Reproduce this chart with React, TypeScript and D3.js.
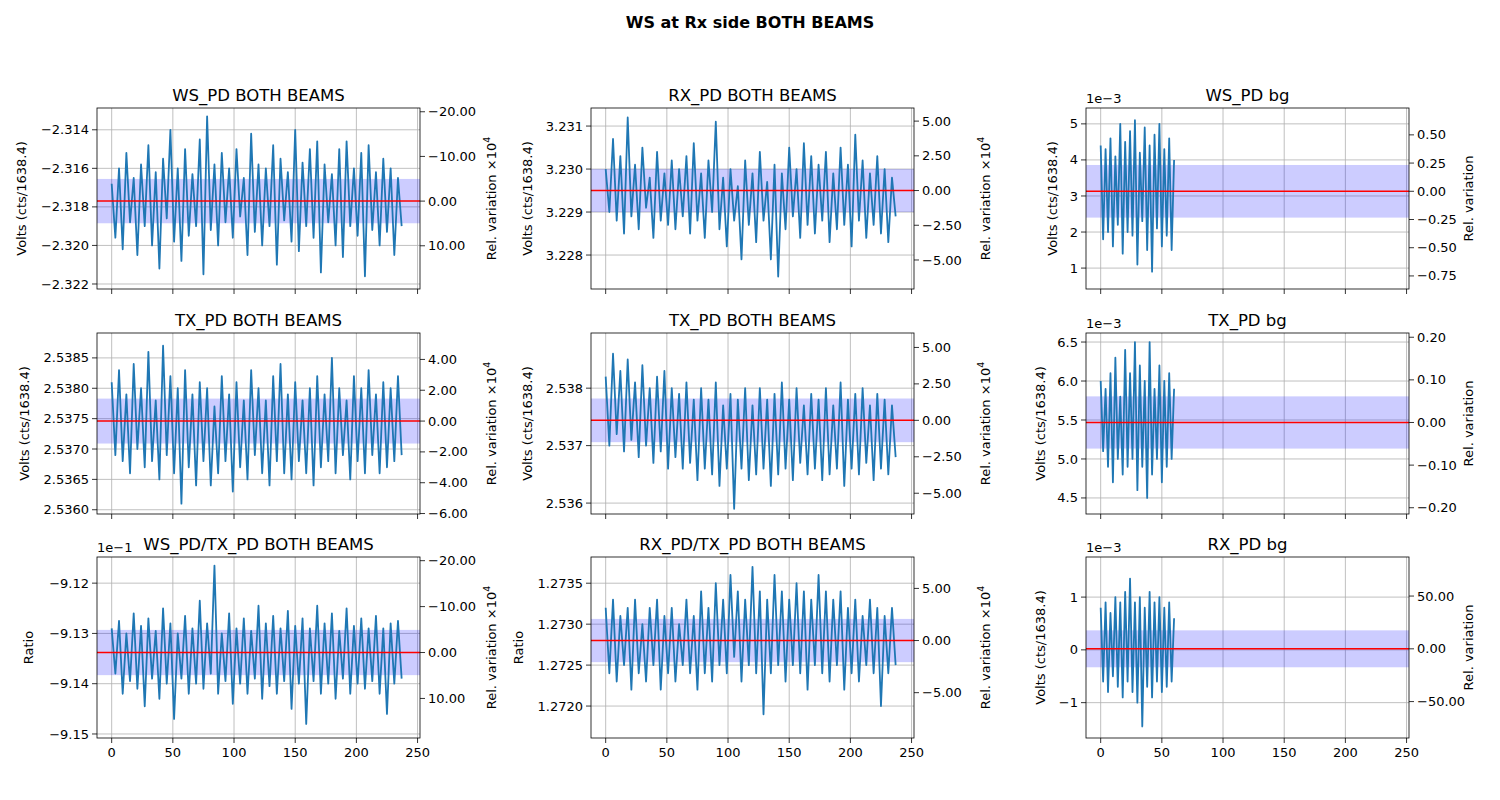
import React from "react";
import * as d3 from "d3";

// time axis samples (seconds)
const timeBoth = d3.range(80).map((i) => i * 3);
const timeBg = d3.range(31).map((i) => i * 2);

const wsBoth = [-2.3168,-2.3196,-2.3160,-2.3202,-2.3152,-2.3188,-2.3165,-2.3205,-2.3158,-2.3190,-2.3148,-2.3200,-2.3162,-2.3212,-2.3155,-2.3186,-2.3140,-2.3198,-2.3160,-2.3208,-2.3150,-2.3195,-2.3163,-2.3190,-2.3145,-2.3215,-2.3133,-2.3192,-2.3158,-2.3200,-2.3152,-2.3188,-2.3160,-2.3196,-2.3150,-2.3185,-2.3165,-2.3205,-2.3142,-2.3193,-2.3158,-2.3200,-2.3160,-2.3190,-2.3148,-2.3210,-2.3155,-2.3187,-2.3162,-2.3198,-2.3140,-2.3203,-2.3157,-2.3190,-2.3150,-2.3196,-2.3146,-2.3214,-2.3158,-2.3188,-2.3163,-2.3200,-2.3150,-2.3206,-2.3146,-2.3190,-2.3160,-2.3195,-2.3152,-2.3216,-2.3148,-2.3192,-2.3162,-2.3200,-2.3155,-2.3193,-2.3160,-2.3205,-2.3165,-2.3190];
const rxBoth = [3.2300,3.2290,3.2307,3.2288,3.2303,3.2285,3.2312,3.2289,3.2301,3.2286,3.2305,3.2291,3.2298,3.2284,3.2304,3.2288,3.2299,3.2287,3.2302,3.2286,3.2300,3.2289,3.2303,3.2285,3.2306,3.2288,3.2299,3.2284,3.2302,3.2290,3.2311,3.2286,3.2298,3.2282,3.2300,3.2288,3.2296,3.2279,3.2302,3.2287,3.2299,3.2283,3.2304,3.2288,3.2297,3.2279,3.2301,3.2275,3.2299,3.2286,3.2305,3.2289,3.2300,3.2284,3.2306,3.2287,3.2303,3.2285,3.2301,3.2288,3.2304,3.2283,3.2299,3.2286,3.2305,3.2287,3.2301,3.2282,3.2308,3.2288,3.2302,3.2284,3.2299,3.2287,3.2303,3.2285,3.2300,3.2283,3.2298,3.2289];
const txBoth1 = [2.5381,2.5369,2.5383,2.5368,2.5379,2.5366,2.5384,2.5370,2.5380,2.5367,2.5386,2.5368,2.5378,2.5365,2.5387,2.5369,2.5382,2.5366,2.5380,2.5361,2.5383,2.5367,2.5379,2.5364,2.5381,2.5368,2.5380,2.5364,2.5377,2.5366,2.5382,2.5368,2.5379,2.5363,2.5381,2.5367,2.5378,2.5365,2.5383,2.5369,2.5380,2.5366,2.5378,2.5364,2.5382,2.5368,2.5384,2.5366,2.5379,2.5365,2.5381,2.5368,2.5378,2.5366,2.5380,2.5364,2.5382,2.5367,2.5379,2.5368,2.5385,2.5366,2.5380,2.5369,2.5378,2.5365,2.5382,2.5368,2.5380,2.5366,2.5383,2.5369,2.5379,2.5366,2.5381,2.5367,2.5380,2.5368,2.5382,2.5369];
const txBoth2 = [2.5382,2.5370,2.5386,2.5372,2.5383,2.5369,2.5385,2.5371,2.5381,2.5368,2.5384,2.5370,2.5380,2.5367,2.5382,2.5369,2.5383,2.5366,2.5380,2.5368,2.5379,2.5366,2.5381,2.5367,2.5378,2.5364,2.5380,2.5366,2.5378,2.5365,2.5381,2.5363,2.5377,2.5366,2.5379,2.5359,2.5378,2.5366,2.5380,2.5364,2.5377,2.5365,2.5380,2.5366,2.5378,2.5363,2.5379,2.5365,2.5381,2.5366,2.5378,2.5364,2.5380,2.5367,2.5377,2.5365,2.5379,2.5366,2.5378,2.5364,2.5380,2.5365,2.5377,2.5366,2.5381,2.5363,2.5378,2.5366,2.5379,2.5365,2.5380,2.5367,2.5377,2.5364,2.5379,2.5366,2.5378,2.5365,2.5377,2.5368];
const wsTxRatio = [-9.1290,-9.1380,-9.1275,-9.1420,-9.1300,-9.1395,-9.1260,-9.1410,-9.1285,-9.1445,-9.1270,-9.1390,-9.1295,-9.1430,-9.1250,-9.1400,-9.1280,-9.1470,-9.1300,-9.1390,-9.1265,-9.1420,-9.1290,-9.1400,-9.1235,-9.1410,-9.1280,-9.1380,-9.1165,-9.1420,-9.1300,-9.1395,-9.1260,-9.1440,-9.1290,-9.1400,-9.1270,-9.1420,-9.1295,-9.1390,-9.1245,-9.1430,-9.1280,-9.1405,-9.1265,-9.1420,-9.1290,-9.1395,-9.1255,-9.1450,-9.1285,-9.1400,-9.1270,-9.1480,-9.1290,-9.1395,-9.1245,-9.1420,-9.1280,-9.1400,-9.1260,-9.1430,-9.1295,-9.1390,-9.1250,-9.1420,-9.1285,-9.1400,-9.1270,-9.1410,-9.1290,-9.1395,-9.1265,-9.1420,-9.1290,-9.1460,-9.1280,-9.1400,-9.1275,-9.1390];
const rxTxRatio = [1.2732,1.2724,1.2733,1.2723,1.2731,1.2725,1.2732,1.2722,1.2733,1.2724,1.2730,1.2723,1.2732,1.2725,1.2733,1.2722,1.2731,1.2724,1.2732,1.2723,1.2730,1.2725,1.2733,1.2724,1.2731,1.2722,1.2734,1.2724,1.2732,1.2723,1.2735,1.2725,1.2733,1.2724,1.2736,1.2726,1.2734,1.2723,1.2733,1.2725,1.2737,1.2724,1.2734,1.2719,1.2733,1.2724,1.2736,1.2725,1.2734,1.2723,1.2733,1.2725,1.2735,1.2724,1.2734,1.2722,1.2733,1.2725,1.2736,1.2724,1.2734,1.2723,1.2733,1.2725,1.2734,1.2722,1.2732,1.2724,1.2733,1.2723,1.2731,1.2725,1.2733,1.2724,1.2732,1.2720,1.2731,1.2724,1.2732,1.2725];
// background values in units of 1e-3
const wsBg = [4.4,1.8,4.3,2.0,4.6,1.6,4.1,2.2,5.0,1.4,4.5,2.0,4.8,1.9,5.1,1.1,4.2,2.3,4.9,1.5,4.4,0.9,4.7,2.1,5.0,1.6,4.3,1.9,4.6,1.5,4.0];
const txBg = [6.0,5.1,5.9,4.9,6.1,4.7,6.3,5.0,5.8,4.8,6.4,4.9,6.1,5.0,6.5,4.6,6.2,4.9,6.0,4.5,6.5,4.8,5.9,5.0,6.2,4.7,6.0,4.9,6.1,5.0,5.9];
const rxBg = [0.8,-0.6,0.9,-0.8,0.7,-0.5,1.0,-0.7,0.9,-0.9,1.1,-0.6,1.35,-0.8,0.9,-1.0,1.0,-1.45,0.8,-0.7,1.1,-0.9,0.9,-0.6,1.0,-0.8,0.8,-0.7,0.9,-0.6,0.6];

const xTicks = [0, 50, 100, 150, 200, 250];

type Panel = {
  title: string; t: number[]; v: number[]; ylim: [number, number]; yTicks: number[];
  fmt: (n: number) => string; mean: number; band: number; relTicks: number[];
  relScale: number; ylabel: string; rlabel: "x4" | "plain"; offset?: string; labelDx: number;
};

const volts = "Volts (cts/1638.4)";
const panels: Panel[] = [
  { title: "WS_PD BOTH BEAMS", t: timeBoth, v: wsBoth, ylim: [-2.32226, -2.31287], yTicks: [-2.322, -2.32, -2.318, -2.316, -2.314], fmt: d3.format(".3f"), mean: -2.3177, band: 0.00115, relTicks: [-20, -10, 0, 10], relScale: 1e4, ylabel: volts, rlabel: "x4", labelDx: -71 },
  { title: "RX_PD BOTH BEAMS", t: timeBoth, v: rxBoth, ylim: [3.22721, 3.23142], yTicks: [3.228, 3.229, 3.23, 3.231], fmt: d3.format(".3f"), mean: 3.2295, band: 0.0005, relTicks: [-5, -2.5, 0, 2.5, 5], relScale: 1e4, ylabel: volts, rlabel: "x4", labelDx: -59 },
  { title: "WS_PD bg", t: timeBg, v: wsBg, ylim: [0.42, 5.44], yTicks: [1, 2, 3, 4, 5], fmt: d3.format("d"), mean: 3.13, band: 0.73, relTicks: [-0.75, -0.5, -0.25, 0, 0.25, 0.5], relScale: 1, ylabel: volts, rlabel: "plain", offset: "1e−3", labelDx: -29 },
  { title: "TX_PD BOTH BEAMS", t: timeBoth, v: txBoth1, ylim: [2.53593, 2.53891], yTicks: [2.536, 2.5365, 2.537, 2.5375, 2.538, 2.5385], fmt: d3.format(".4f"), mean: 2.53746, band: 0.00037, relTicks: [-6, -4, -2, 0, 2, 4], relScale: 1e4, ylabel: volts, rlabel: "x4", labelDx: -68 },
  { title: "TX_PD BOTH BEAMS", t: timeBoth, v: txBoth2, ylim: [2.53581, 2.53896], yTicks: [2.536, 2.537, 2.538], fmt: d3.format(".3f"), mean: 2.53744, band: 0.00038, relTicks: [-5, -2.5, 0, 2.5, 5], relScale: 1e4, ylabel: volts, rlabel: "x4", labelDx: -59 },
  { title: "TX_PD bg", t: timeBg, v: txBg, ylim: [4.294, 6.616], yTicks: [4.5, 5, 5.5, 6, 6.5], fmt: d3.format(".1f"), mean: 5.468, band: 0.335, relTicks: [-0.2, -0.1, 0, 0.1, 0.2], relScale: 1, ylabel: volts, rlabel: "plain", offset: "1e−3", labelDx: -41 },
  { title: "WS_PD/TX_PD BOTH BEAMS", t: timeBoth, v: wsTxRatio, ylim: [-9.1508, -9.1148], yTicks: [-9.15, -9.14, -9.13, -9.12], fmt: d3.format(".2f"), mean: -9.1338, band: 0.0045, relTicks: [-20, -10, 0, 10], relScale: 1e4, ylabel: "Ratio", rlabel: "x4", offset: "1e−1", labelDx: -64 },
  { title: "RX_PD/TX_PD BOTH BEAMS", t: timeBoth, v: rxTxRatio, ylim: [1.27161, 1.27382], yTicks: [1.272, 1.2725, 1.273, 1.2735], fmt: d3.format(".4f"), mean: 1.2728, band: 0.000264, relTicks: [-5, 0, 5], relScale: 1e4, ylabel: "Ratio", rlabel: "x4", labelDx: -68 },
  { title: "RX_PD bg", t: timeBg, v: rxBg, ylim: [-1.67, 1.76], yTicks: [-1, 0, 1], fmt: d3.format("d"), mean: 0.02, band: 0.35, relTicks: [-50, 0, 50], relScale: 1, ylabel: volts, rlabel: "plain", offset: "1e−3", labelDx: -41 },
];

const colX = [97, 591, 1086];
const rowY = [108, 333, 557];
const W = 323;
const H = 181;
const font = "DejaVu Sans, sans-serif";
const minus = (s: string) => s.replace("-", "−");

const PanelView: React.FC<{ p: Panel; col: number; row: number }> = ({ p, col, row }) => {
  const x = d3.scaleLinear().domain([-12, 252]).range([0, W]);
  const y = d3.scaleLinear().domain(p.ylim).range([H, 0]);
  const rel = (v: number) => ((v - p.mean) / p.mean) * p.relScale;
  const yr = d3.scaleLinear().domain([rel(p.ylim[0]), rel(p.ylim[1])]).range([H, 0]);
  const line = d3.line<number>().x((_, i) => x(p.t[i])).y((d) => y(d));
  const fmt2 = d3.format(".2f");
  return (
    <g transform={`translate(${colX[col]},${rowY[row]})`} fontFamily={font}>
      {xTicks.map((t) => (
        <line key={"gx" + t} x1={x(t)} x2={x(t)} y1={0} y2={H} stroke="#b0b0b0" strokeWidth={0.8} />
      ))}
      {p.yTicks.map((t) => (
        <line key={"gy" + t} x1={0} x2={W} y1={y(t)} y2={y(t)} stroke="#b0b0b0" strokeWidth={0.8} />
      ))}
      <rect x={0} width={W} y={y(p.mean + p.band)} height={y(p.mean - p.band) - y(p.mean + p.band)} fill="rgba(0,0,255,0.2)" />
      <path d={line(p.v) || ""} fill="none" stroke="#1f77b4" strokeWidth={1.8} strokeLinejoin="round" />
      <line x1={0} x2={W} y1={y(p.mean)} y2={y(p.mean)} stroke="red" strokeWidth={1.5} />
      <rect x={0} y={0} width={W} height={H} fill="none" stroke="black" strokeWidth={0.8} />
      {xTicks.map((t) => (
        <g key={"tx" + t}>
          <line x1={x(t)} x2={x(t)} y1={H} y2={H + 5} stroke="black" strokeWidth={0.8} />
          {row === 2 && (
            <text x={x(t)} y={H + 19} textAnchor="middle" fontSize={13}>{t}</text>
          )}
        </g>
      ))}
      {p.yTicks.map((t) => (
        <g key={"ty" + t}>
          <line x1={-5} x2={0} y1={y(t)} y2={y(t)} stroke="black" strokeWidth={0.8} />
          <text x={-8} y={y(t)} dy="0.35em" textAnchor="end" fontSize={13}>{minus(p.fmt(t))}</text>
        </g>
      ))}
      {p.relTicks.map((t) => (
        <g key={"tr" + t}>
          <line x1={W} x2={W + 5} y1={yr(t)} y2={yr(t)} stroke="black" strokeWidth={0.8} />
          <text x={W + 8} y={yr(t)} dy="0.35em" fontSize={13}>{minus(fmt2(t))}</text>
        </g>
      ))}
      <text x={W / 2} y={-7} textAnchor="middle" fontSize={16.5}>{p.title}</text>
      {p.offset && <text x={0} y={-5} fontSize={13}>{p.offset}</text>}
      <text transform={`translate(${p.labelDx},${H / 2}) rotate(-90)`} textAnchor="middle" fontSize={13}>{p.ylabel}</text>
      <text transform={`translate(${W + (col === 2 ? 64 : 76)},${H / 2}) rotate(-90)`} textAnchor="middle" fontSize={13}>
        {p.rlabel === "x4" ? (
          <>Rel. variation ×10<tspan dy={-6} fontSize={9.5}>4</tspan></>
        ) : (
          "Rel. variation"
        )}
      </text>
    </g>
  );
};

const App: React.FC = () => (
  <svg width={1500} height={800} style={{ display: "block", margin: -8 }}>
    <rect width={1500} height={800} fill="white" />
    <text x={750} y={28} textAnchor="middle" fontFamily={font} fontWeight="bold" fontSize={16}>
      WS at Rx side BOTH BEAMS
    </text>
    {panels.map((p, i) => (
      <PanelView key={i} p={p} col={i % 3} row={Math.floor(i / 3)} />
    ))}
  </svg>
);

export default App;
